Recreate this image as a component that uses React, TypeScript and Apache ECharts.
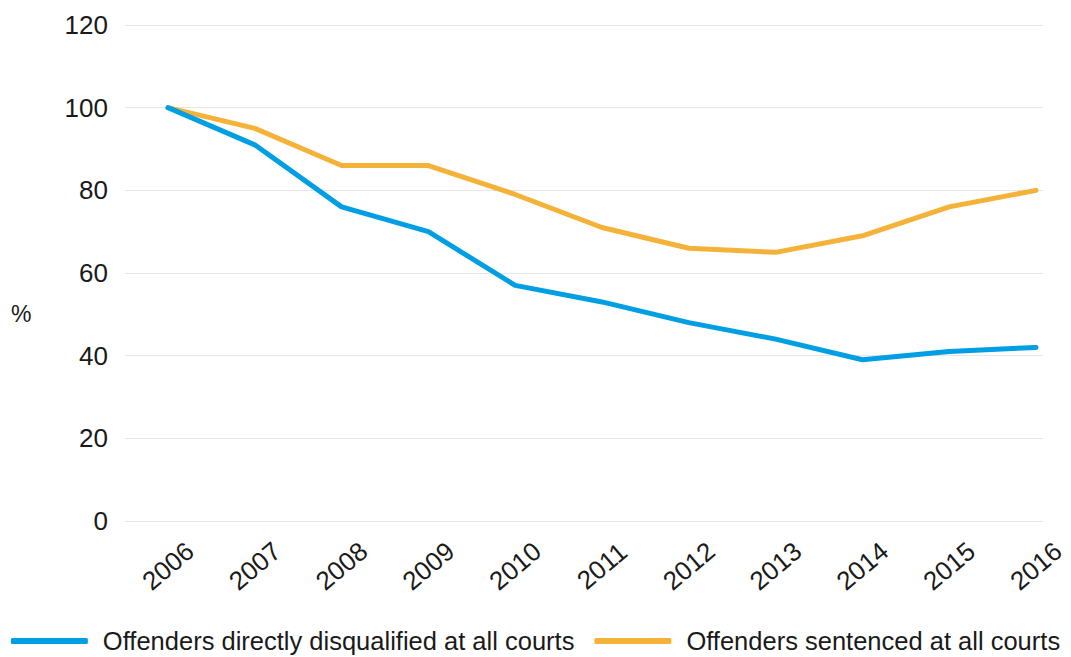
import React, { useEffect, useRef } from "react";
import * as echarts from "echarts";

const years = ["2006", "2007", "2008", "2009", "2010", "2011", "2012", "2013", "2014", "2015", "2016"];
const disqualified = [100, 91, 76, 70, 57, 53, 48, 44, 39, 41, 42];
const sentenced = [100, 95, 86, 86, 79, 71, 66, 65, 69, 76, 80];
const seriesNames = ["Offenders directly disqualified at all courts", "Offenders sentenced at all courts"];
const colors = ["#009FE3", "#F4B238"];

export default function App() {
  const ref = useRef<HTMLDivElement>(null);
  useEffect(() => {
    const chart = echarts.init(ref.current!, null, { renderer: "svg" });
    const font = "Liberation Sans";
    chart.setOption({
      animation: false,
      textStyle: { fontFamily: font },
      grid: [
        { left: 168, right: 35, top: 25, bottom: 136 },
        { left: 125, right: 28, top: 25, bottom: 136 },
      ],
      xAxis: [
        {
          type: "category",
          gridIndex: 0,
          data: years,
          boundaryGap: false,
          axisLine: { show: false },
          axisTick: { show: false },
          axisLabel: {
            rotate: 40,
            align: "center",
            verticalAlign: "middle",
            margin: 45,
            fontSize: 26,
            color: "#1a1a1a",
            fontFamily: font,
            interval: 0,
          },
        },
        { type: "value", gridIndex: 1, show: false, min: 0, max: 1 },
      ],
      yAxis: [
        { type: "value", gridIndex: 0, min: 0, max: 120, interval: 20, show: false },
        {
          type: "value",
          gridIndex: 1,
          min: 0,
          max: 120,
          interval: 20,
          axisLine: { show: false },
          axisTick: { show: false },
          splitLine: { lineStyle: { color: "#e6e6e6", width: 1 } },
          axisLabel: { fontSize: 26, color: "#1a1a1a", margin: 17, fontFamily: font },
        },
      ],
      legend: {
        top: 628,
        left: "center",
        padding: 0,
        icon: "roundRect",
        itemWidth: 77,
        itemHeight: 6,
        itemGap: 20,
        textStyle: { fontSize: 25.5, color: "#1a1a1a", fontFamily: font, padding: [0, 0, 0, 10] },
        data: seriesNames,
      },
      graphic: [
        { type: "text", left: 11, top: 302, style: { text: "%", fontSize: 23, fill: "#1a1a1a", fontFamily: font } },
      ],
      series: [
        {
          name: seriesNames[0],
          type: "line",
          data: disqualified,
          showSymbol: false,
          lineStyle: { color: colors[0], width: 5, cap: "round" },
          itemStyle: { color: colors[0] },
          xAxisIndex: 0,
          yAxisIndex: 0,
        },
        {
          name: seriesNames[1],
          type: "line",
          data: sentenced,
          showSymbol: false,
          lineStyle: { color: colors[1], width: 5, cap: "round" },
          itemStyle: { color: colors[1] },
          xAxisIndex: 0,
          yAxisIndex: 0,
          z: 1,
        },
      ],
    });
    return () => chart.dispose();
  }, []);
  return <div ref={ref} style={{ position: "absolute", left: 0, top: 0, width: 1071, height: 657 }} />;
}
